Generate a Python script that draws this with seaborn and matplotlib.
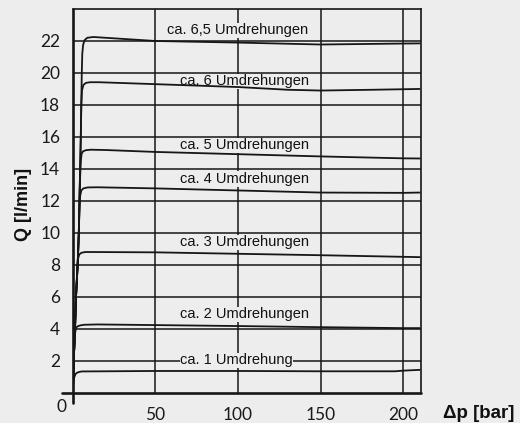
import pandas as pd
import matplotlib.pyplot as plt
import seaborn as sns

# Kennlinien: Differenzdruck [bar] und Volumenstrom [l/min] je Umdrehungszahl
dp_1 = [0, 0.4, 0.9, 1.6, 2.6, 4.0, 5.5, 50, 100, 150, 195, 200, 210]
q_1 = [0, 0.6, 0.95, 1.15, 1.25, 1.3, 1.33, 1.36, 1.36, 1.34, 1.34, 1.38, 1.43]

dp_2 = [0, 0.6, 1.4, 1.9, 2.5, 3.4, 5.0, 7.0, 15, 50, 100, 150, 200, 210]
q_2 = [0, 2.0, 3.7, 4.0, 4.12, 4.17, 4.22, 4.25, 4.27, 4.23, 4.17, 4.1, 4.04, 4.04]

dp_3 = [0, 0.6, 1.4, 2.0, 2.8, 3.3, 4.0, 5.2, 7.5, 12, 50, 100, 150, 200, 210]
q_3 = [0, 2.0, 4.0, 6.0, 7.8, 8.4, 8.65, 8.75, 8.8, 8.8, 8.78, 8.69, 8.6, 8.5, 8.48]

dp_4 = [0, 0.6, 1.4, 2.0, 3.0, 3.7, 4.1, 4.5, 5.2, 6.5, 9.0, 15, 50, 100, 150, 200, 210]
q_4 = [0, 2.0, 4.0, 6.0, 8.0, 10.0, 11.5, 12.3, 12.65, 12.78, 12.84, 12.85, 12.78, 12.65, 12.52, 12.5, 12.52]

dp_5 = [0, 0.6, 1.4, 2.0, 3.0, 3.7, 4.1, 4.5, 4.9, 5.4, 6.3, 8.0, 11, 20, 50, 100, 150, 200, 210]
q_5 = [0, 2.0, 4.0, 6.0, 8.0, 10.0, 12.0, 13.5, 14.5, 14.95, 15.1, 15.17, 15.2, 15.18, 15.06, 14.92, 14.78, 14.66, 14.65]

dp_6 = [0, 0.6, 1.4, 2.0, 3.0, 3.7, 4.1, 4.5, 4.9, 5.2, 5.6, 6.5, 8.0, 10.5, 16, 50, 100, 130, 150, 182, 210]
q_6 = [0, 2.0, 4.0, 6.0, 8.0, 10.0, 12.0, 14.0, 16.0, 18.0, 18.9, 19.25, 19.38, 19.42, 19.42, 19.3, 19.12, 18.95, 18.9, 18.95, 19.0]

dp_65 = [0, 0.6, 1.4, 2.0, 3.0, 3.7, 4.1, 4.5, 4.9, 5.2, 5.5, 5.8, 6.3, 7.2, 8.8, 12.5, 20, 50, 100, 150, 200, 210]
q_65 = [0, 2.0, 4.0, 6.0, 8.0, 10.0, 12.0, 14.0, 16.0, 18.0, 20.0, 21.2, 21.75, 22.05, 22.2, 22.25, 22.2, 22.0, 21.9, 21.78, 21.84, 21.85]

kurven = ['ca. 1 Umdrehung', 'ca. 2 Umdrehungen', 'ca. 3 Umdrehungen', 'ca. 4 Umdrehungen',
          'ca. 5 Umdrehungen', 'ca. 6 Umdrehungen', 'ca. 6,5 Umdrehungen']
dp_werte = [dp_1, dp_2, dp_3, dp_4, dp_5, dp_6, dp_65]
q_werte = [q_1, q_2, q_3, q_4, q_5, q_6, q_65]

# Beschriftungen der Kurven (linker Rand, Grundlinie)
label_x = [65, 65, 65, 65, 65, 65, 57]
label_y = [1.77, 4.65, 9.17, 13.12, 15.23, 19.23, 22.42]

x_ticks = [50, 100, 150, 200]
y_ticks = [2, 4, 6, 8, 10, 12, 14, 16, 18, 20, 22]

bg = '#ecedec'
ink = '#161616'
tick_font = ['Lato', 'Liberation Sans', 'DejaVu Sans']

# Long-Format für seaborn
df = pd.concat([pd.DataFrame({'dp': x, 'Q': y, 'Kurve': k})
                for x, y, k in zip(dp_werte, q_werte, kurven)], ignore_index=True)

sns.set_style('white')
plt.rcParams['font.family'] = ['Liberation Sans', 'DejaVu Sans']

fig = plt.figure(figsize=(5.2, 4.23), dpi=100, facecolor=bg)
ax = fig.add_axes([0.1398, 0.0716, 0.6698, 0.9071])
ax.set_facecolor(bg)

sns.lineplot(data=df, x='dp', y='Q', hue='Kurve', palette=[ink] * len(kurven),
             estimator=None, sort=False, legend=False, linewidth=1.3, ax=ax, zorder=3)

ax.set_xlim(0, 210.8)
ax.set_ylim(0, 24)

# Gitter
ax.set_xticks(x_ticks)
ax.set_yticks(y_ticks)
ax.grid(True, color=ink, linewidth=1.1)
ax.set_axisbelow(True)
ax.tick_params(length=0, labelsize=12.5, colors='#1a1a1a')
ax.tick_params(axis='y', pad=9)
ax.tick_params(axis='x', pad=10)
for lbl in ax.get_xticklabels() + ax.get_yticklabels():
    lbl.set_fontfamily(tick_font)
    lbl.set_fontweight('normal')

for side in ['top', 'right']:
    ax.spines[side].set_color(ink)
    ax.spines[side].set_linewidth(1.2)
for side in ['bottom', 'left']:
    ax.spines[side].set_visible(False)

# Achsenkreuz etwas über den Ursprung hinaus
ax.axhline(0, xmin=-0.031, xmax=1, color=ink, linewidth=1.9, clip_on=False, zorder=4)
ax.axvline(0, ymin=-0.027, ymax=1, color=ink, linewidth=1.9, clip_on=False, zorder=4)
ax.annotate('0', xy=(0, 0), xytext=(-8, -10), textcoords='offset points',
            ha='center', va='center', fontsize=12.5, color='#1a1a1a',
            family=tick_font, fontweight='normal')

# Kurvenbeschriftungen
for k, x, y in zip(kurven, label_x, label_y):
    ax.text(x, y, k, ha='left', va='baseline', fontsize=10.5, color='#111111', zorder=1.5,
            bbox=dict(boxstyle='square,pad=0.04', fc=bg, ec='none'))

ax.set_xlabel('')
ax.set_ylabel('Q [l/min]', fontsize=13, fontweight='bold', color='#111111')
ax.yaxis.set_label_coords(-0.117, 0.49)
fig.text(443 / 520, 1 - 413 / 423, 'Δp [bar]', ha='left', va='center',
         fontsize=13.5, fontweight='bold', color='#111111')

fig.savefig('out.png', dpi=100, facecolor=bg)
